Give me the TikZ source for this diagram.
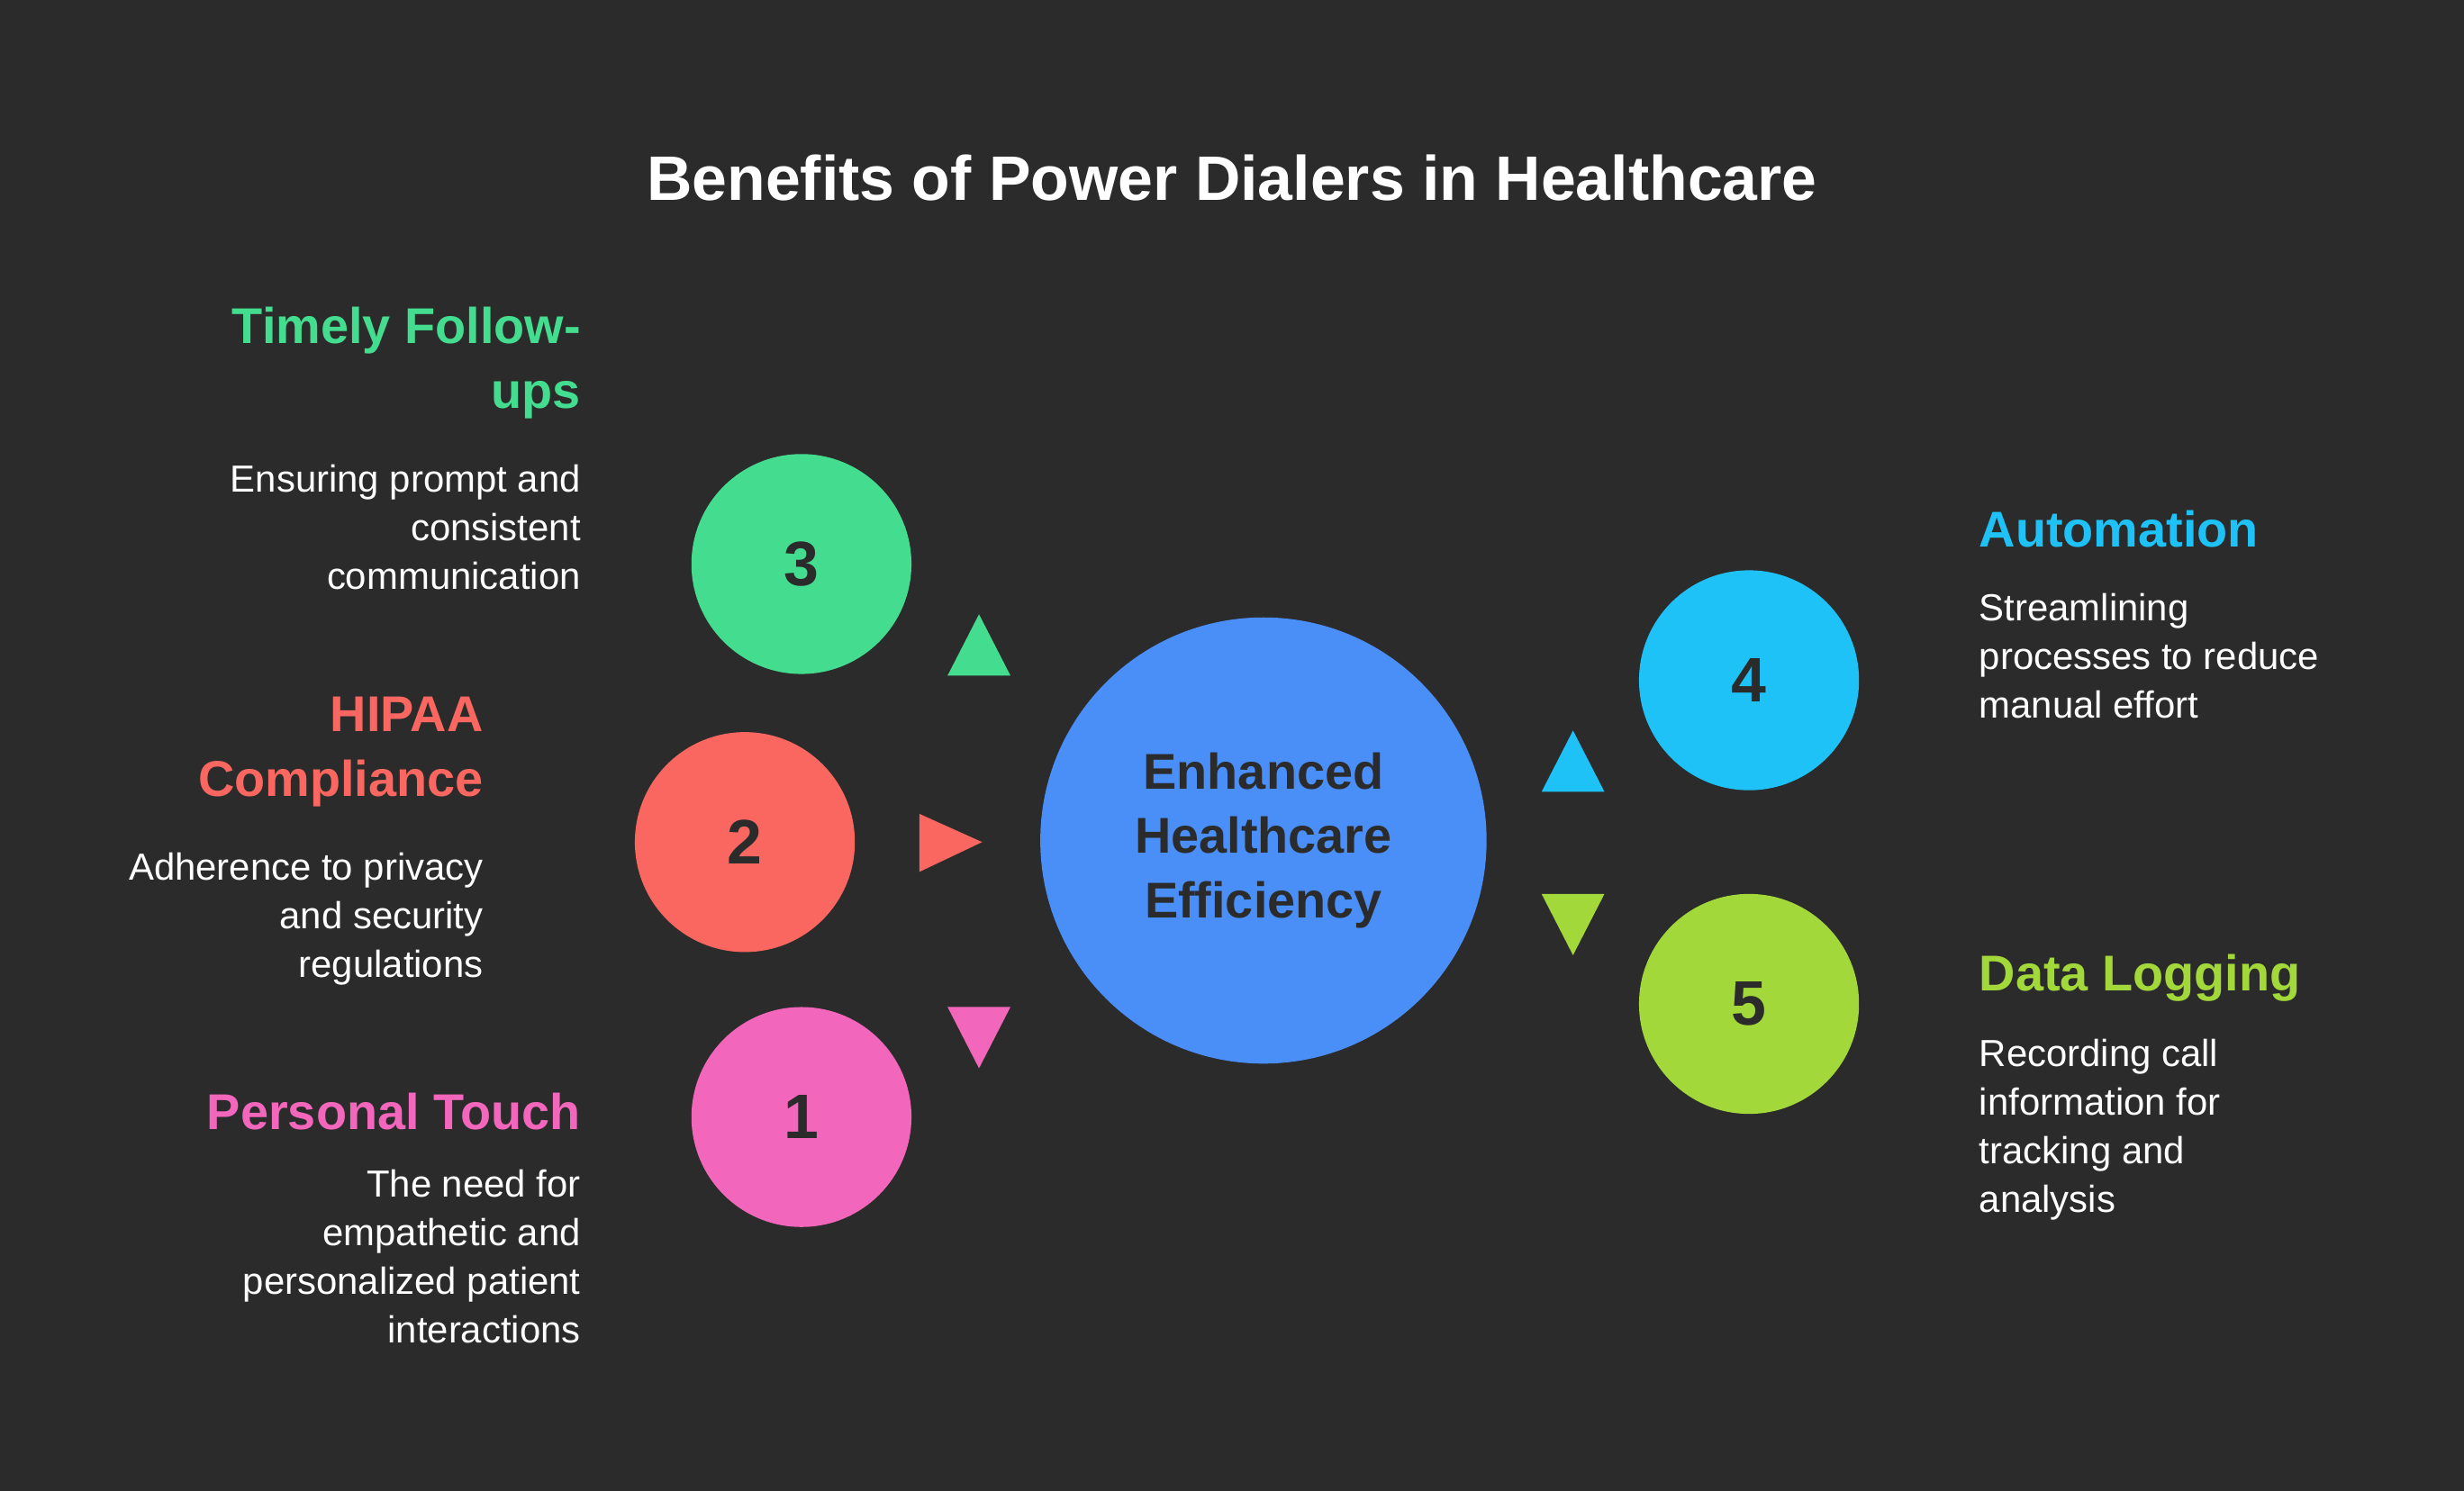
\documentclass[tikz,border=0pt]{standalone}
\usepackage{fontspec}
\setmainfont{Liberation Sans}
\definecolor{bg}{HTML}{2B2B2B}
\definecolor{cgreen}{HTML}{44DD8F}
\definecolor{cred}{HTML}{F96760}
\definecolor{cpink}{HTML}{F266BB}
\definecolor{cblue}{HTML}{4A8EF8}
\definecolor{ccyan}{HTML}{1EC2F7}
\definecolor{clime}{HTML}{A3D83B}
\begin{document}
\begin{tikzpicture}[x=1pt,y=-1pt,
  num/.style={circle,minimum size=140pt,inner sep=0,text=bg,font=\fontsize{40}{44}\selectfont\bfseries},
  headr/.style={anchor=south east,align=right,font=\fontsize{32}{41}\selectfont\bfseries},
  headl/.style={anchor=south west,align=left,font=\fontsize{32}{41}\selectfont\bfseries},
  bodyr/.style={anchor=north east,align=right,text=white,font=\fontsize{24}{31}\selectfont},
  bodyl/.style={anchor=north west,align=left,text=white,font=\fontsize{24}{31}\selectfont}]
\fill[bg] (0,0) rectangle (1568,949);
\node[text=white,font=\fontsize{40}{44}\selectfont\bfseries] (title) at (784,113) {Benefits of Power Dialers in Healthcare};
\node[num,fill=cgreen] (c3) at (510,359) {3};
\node[num,fill=cred] (c2) at (474,536) {2};
\node[num,fill=cpink] (c1) at (510,711) {1};
\node[circle,minimum size=284pt,inner sep=0,fill=cblue,text=bg,align=center,font=\fontsize{32}{41}\selectfont\bfseries] (ctr) at (804,535) {Enhanced\\Healthcare\\Efficiency};
\node[num,fill=ccyan] (c4) at (1113,433) {4};
\node[num,fill=clime] (c5) at (1113,639) {5};
% triangles
\fill[cgreen] (603,430) -- (643,430) -- (623,391) -- cycle;
\fill[cred] (585,518) -- (625,536) -- (585,555) -- cycle;
\fill[cpink] (603,641) -- (643,641) -- (623,680) -- cycle;
\fill[ccyan] (981,504) -- (1021,504) -- (1001,465) -- cycle;
\fill[clime] (981,569) -- (1021,569) -- (1001,608) -- cycle;
% texts
\node[headr,text=cgreen] (h3) at (373,270) {Timely Follow-\\ups};
\node[bodyr] (b3) at (373,292) {Ensuring prompt and\\consistent\\communication};
\node[headr,text=cred] (h2) at (311,517) {HIPAA\\Compliance};
\node[bodyr] (b2) at (311,539) {Adherence to privacy\\and security\\regulations};
\node[headr,text=cpink] (h1) at (373,723) {Personal Touch};
\node[bodyr] (b1) at (373,741) {The need for\\empathetic and\\personalized patient\\interactions};
\node[headl,text=ccyan] (h4) at (1256,352) {Automation};
\node[bodyl] (b4) at (1256,374) {Streamlining\\processes to reduce\\manual effort};
\node[headl,text=clime] (h5) at (1256,641) {Data Logging};
\node[bodyl] (b5) at (1256,658) {Recording call\\information for\\tracking and\\analysis};
\end{tikzpicture}
\end{document}
